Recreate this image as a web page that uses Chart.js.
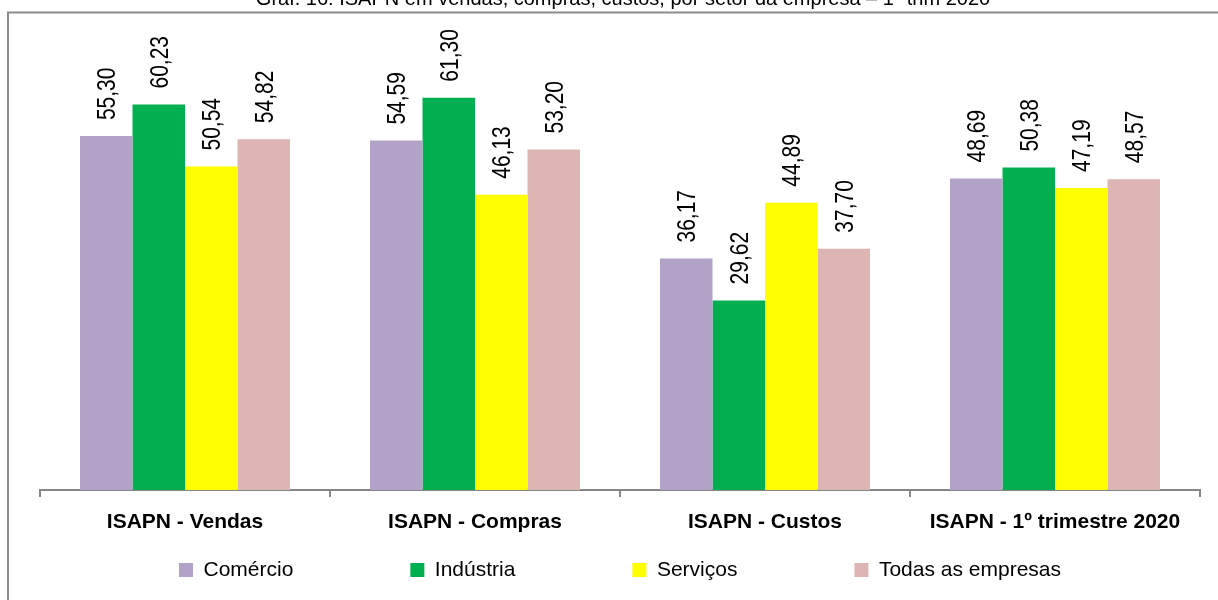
<!DOCTYPE html>
<html>
<head>
<meta charset="utf-8">
<script src="https://cdn.jsdelivr.net/npm/chart.js@4.4.1/dist/chart.umd.min.js"></script>
<style>
  html, body { margin: 0; padding: 0; background: #ffffff; }
  #wrap { position: relative; width: 1218px; height: 600px; }
</style>
</head>
<body>
<div id="wrap"><canvas id="c" width="1218" height="600"></canvas></div>
<script>
const titleText = "Gráf. 16: ISAPN em vendas, compras, custos, por setor da empresa – 1º trim 2020";
const categories = ["ISAPN - Vendas", "ISAPN - Compras", "ISAPN - Custos", "ISAPN - 1º trimestre 2020"];
const seriesNames = ["Comércio", "Indústria", "Serviços", "Todas as empresas"];
const comercio = [55.30, 54.59, 36.17, 48.69];
const industria = [60.23, 61.30, 29.62, 50.38];
const servicos = [50.54, 46.13, 44.89, 47.19];
const todas = [54.82, 53.20, 37.70, 48.57];
const seriesColors = ["#B2A2C7", "#00B050", "#FFFF00", "#DDB5B3"];

const FONT = "'Liberation Sans', Arial, sans-serif";
const LEGEND_PAD = 117;

const framePlugin = {
  id: 'frame',
  beforeDraw(chart) {
    const ctx = chart.ctx;
    ctx.save();
    ctx.strokeStyle = '#8c8c8c';
    ctx.lineWidth = 2;
    ctx.beginPath();
    ctx.moveTo(8, 600);
    ctx.lineTo(8, 12.5);
    ctx.lineTo(1218, 12.5);
    ctx.stroke();
    ctx.fillStyle = '#000';
    ctx.font = "20px " + FONT;
    ctx.textAlign = 'center';
    ctx.textBaseline = 'alphabetic';
    ctx.fillText(titleText, 623, 5);
    ctx.restore();
  }
};

const labelPlugin = {
  id: 'barLabels',
  afterDatasetsDraw(chart) {
    const ctx = chart.ctx;
    ctx.save();
    ctx.fillStyle = '#000';
    ctx.font = "25px " + FONT;
    ctx.textAlign = 'left';
    ctx.textBaseline = 'middle';
    chart.data.datasets.forEach((ds, di) => {
      const meta = chart.getDatasetMeta(di);
      meta.data.forEach((bar, i) => {
        const txt = ds.data[i].toFixed(2).replace('.', ',');
        ctx.save();
        ctx.translate(bar.x + 2, bar.y - 16);
        ctx.rotate(-Math.PI / 2);
        ctx.scale(0.84, 1);
        ctx.fillText(txt, 0, 0);
        ctx.restore();
      });
    });
    ctx.restore();
  }
};

const legendShift = {
  id: 'legendShift',
  afterLayout(chart) {
    const lg = chart.legend;
    if (lg) {
      lg.top = 559.5 - LEGEND_PAD;
    }
  }
};

const datasets = [comercio, industria, servicos, todas].map((arr, i) => ({
  label: seriesNames[i],
  data: arr,
  backgroundColor: seriesColors[i],
  borderWidth: 0,
  categoryPercentage: 0.724,
  barPercentage: 1.0
}));

new Chart(document.getElementById('c'), {
  type: 'bar',
  data: { labels: categories, datasets: datasets },
  plugins: [framePlugin, labelPlugin, legendShift],
  options: {
    responsive: false,
    animation: false,
    layout: { padding: { left: 40, right: 18, top: 42, bottom: 8 } },
    scales: {
      x: {
        grid: { display: true, drawOnChartArea: false, color: '#868686', lineWidth: 2, tickLength: 7, offset: true },
        border: { display: true, color: '#868686', width: 2 },
        ticks: { color: '#000', padding: 12.4, maxRotation: 0, minRotation: 0, autoSkip: false,
                 font: { family: FONT, size: 21, weight: 'bold' } }
      },
      y: { display: false, min: 0, max: 70 }
    },
    plugins: {
      title: { display: false },
      tooltip: { enabled: false },
      legend: {
        position: 'bottom',
        maxHeight: 45,
        labels: {
          color: '#000',
          boxWidth: 14,
          boxHeight: 14,
          padding: LEGEND_PAD,
          font: { family: FONT, size: 21 }
        }
      }
    }
  }
});
</script>
</body>
</html>
